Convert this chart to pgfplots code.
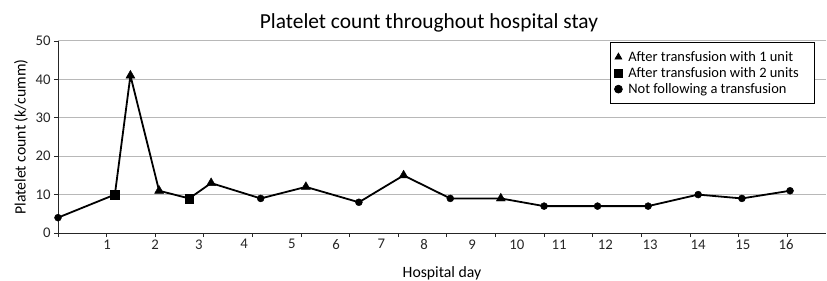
\documentclass[border=0pt]{standalone}
\usepackage{pgfplots}
\pgfplotsset{compat=1.18}
\usepackage{fontspec}
\setmainfont{Carlito}
\begin{document}
\begin{tikzpicture}
\begin{axis}[
 scale only axis, width=768bp, height=192bp,
 xmin=0, xmax=15.8, ymin=0, ymax=50,
 axis x line=bottom, axis y line=left,
 axis line style={-, black!85, line width=0.8bp},
 ytick={0,10,...,50}, ymajorgrids,
 grid style={black!28, line width=1bp},
 xtick={0,...,15}, xticklabel=\empty,
 tick align=outside, major tick length=4bp,
 tick style={black!85, line width=0.8bp},
 extra x ticks={1.01,2.0,2.90,3.83,4.81,5.72,6.65,7.53,8.52,9.44,10.31,11.26,12.18,13.17,14.09,14.98},
 extra x tick labels={1,2,3,4,5,6,7,8,9,10,11,12,13,14,15,16},
 extra x tick style={major tick length=0pt, grid=none, xticklabel style={yshift=-3bp}},
 /pgf/number format/assume math mode=true,
 tick label style={font=\fontsize{14.8}{17}\selectfont, text=black!85},
 title={Platelet count throughout hospital stay},
 title style={font=\fontsize{21.5}{25}\selectfont, yshift=-1bp, xshift=-13bp},
 xlabel={Hospital day}, ylabel={Platelet count (k/cumm)},
 label style={font=\fontsize{15.8}{18}\selectfont},
 ylabel style={yshift=1bp},
 xlabel style={yshift=-6bp},
 legend style={at={(0.986,0.995)}, anchor=north east, draw=black, line width=0.8bp,
   font=\fontsize{14.5}{17}\selectfont, row sep=0.5bp, inner xsep=4bp, inner ysep=7bp,
   /tikz/every odd column/.append style={column sep=4bp}},
 legend cell align=left,
 legend image code/.code={\draw[#1, mark size=3.9bp] plot coordinates {(0cm,0cm)};},
 clip=false,
]
\coordinate (O) at (rel axis cs:0,0);
\addplot[black, line width=1.8bp, forget plot] coordinates {
 (0,4) (1.17,10) (1.49,41) (2.08,11) (2.70,9) (3.15,13) (4.17,9) (5.10,12)
 (6.19,8) (7.11,15) (8.07,9) (9.11,9) (10.0,7) (11.10,7) (12.14,7) (13.17,10)
 (14.07,9) (15.06,11)};
\addplot[only marks, mark=triangle*, mark size=5.2bp, black] coordinates {
 (1.49,41) (2.08,11) (3.15,13) (5.10,12) (7.11,15) (9.11,9)};
\addlegendentry{After transfusion with 1 unit}
\addplot[only marks, mark=square*, mark size=4.3bp, black] coordinates {
 (1.17,10) (2.70,9)};
\addlegendentry{After transfusion with 2 units\hspace*{10bp}}
\addplot[only marks, mark=*, mark size=3.5bp, black] coordinates {
 (0,4) (4.17,9) (6.19,8) (8.07,9) (10.0,7) (11.10,7) (12.14,7) (13.17,10)
 (14.07,9) (15.06,11)};
\addlegendentry{Not following a transfusion}
\end{axis}
\pgfresetboundingbox
\useasboundingbox (O) ++(-58bp,-48bp) rectangle ++(827bp,281bp);
\end{tikzpicture}
\end{document}
